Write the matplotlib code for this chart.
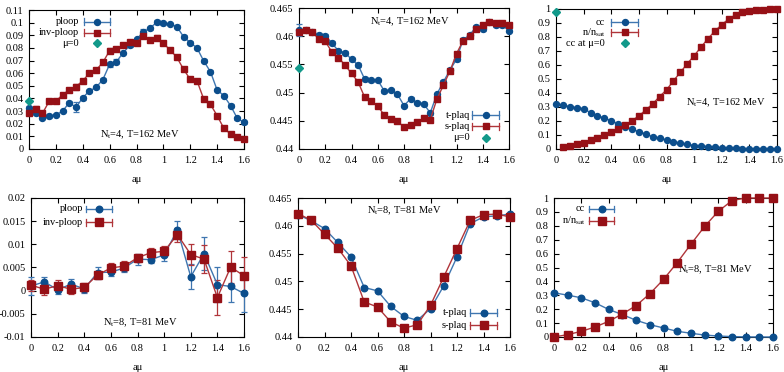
import matplotlib
matplotlib.use("Agg")
import matplotlib.pyplot as plt
import numpy as np
from matplotlib.ticker import MultipleLocator, FuncFormatter

plt.rcParams['font.family'] = ['Liberation Serif', 'DejaVu Serif']
plt.rcParams['mathtext.fontset'] = 'custom'
plt.rcParams['mathtext.rm'] = 'Liberation Serif'
plt.rcParams['mathtext.it'] = 'Liberation Serif:italic'
FS = 7.5
plt.rcParams['font.size'] = FS

# ---------------- data ----------------
mu_fine = np.round(np.arange(0, 1.6001, 0.05), 2)
mu_coarse = np.round(np.arange(0, 1.6001, 0.1), 2)

# Panel 1: Nt=4 Polyakov loops
ploop4 = [0.0322, 0.0282, 0.0245, 0.026, 0.027, 0.030, 0.0367, 0.033, 0.0406, 0.046, 0.0488,
          0.055, 0.067, 0.069, 0.076, 0.082, 0.0868, 0.0926, 0.0955, 0.1003, 0.0995, 0.099,
          0.0968, 0.0889, 0.0842, 0.080, 0.0697, 0.0612, 0.0467, 0.0422, 0.0343, 0.0243, 0.0211]
ploop4_err = [0.0015, 0.001, 0.001, 0.0015, 0.001, 0.001, 0.001, 0.004, 0.0015, 0.001, 0.0012,
              0.001, 0.002, 0.002, 0.001, 0.001, 0.001, 0.002, 0.001, 0.0015, 0.001, 0.001,
              0.001, 0.001, 0.001, 0.001, 0.0012, 0.0012, 0.001, 0.0012, 0.001, 0.001, 0.001]
invploop4 = [0.0288, 0.032, 0.0282, 0.0377, 0.0377, 0.043, 0.0467, 0.0493, 0.054, 0.060, 0.0625,
             0.0686, 0.0778, 0.0789, 0.082, 0.0847, 0.0842, 0.0894, 0.0863, 0.0881, 0.0836, 0.0784,
             0.0726, 0.0631, 0.0551, 0.054, 0.0396, 0.0354, 0.0264, 0.0164, 0.0119, 0.0098, 0.0077]
invploop4_err = [0.002, 0.002, 0.0015, 0.001, 0.001, 0.001, 0.001, 0.0025, 0.001, 0.001, 0.001,
                 0.001, 0.0018, 0.001, 0.001, 0.001, 0.001, 0.001, 0.001, 0.0018, 0.001, 0.001,
                 0.001, 0.001, 0.0012, 0.001, 0.001, 0.001, 0.001, 0.001, 0.001, 0.001, 0.001]
ploop4_mu0 = 0.0383

# Panel 2: Nt=4 plaquettes
tplaq4 = [0.4611, 0.4611, 0.4607, 0.4602, 0.4601, 0.4588, 0.4574, 0.4571, 0.4559, 0.4549, 0.4524,
          0.4522, 0.4522, 0.4503, 0.4504, 0.4497, 0.4477, 0.4489, 0.4482, 0.4480, 0.4464, 0.4497,
          0.4519, 0.4540, 0.4559, 0.4594, 0.4602, 0.4617, 0.4613, 0.4625, 0.4619, 0.4619, 0.4610]
tplaq4_err = [0.001] + [0.0003] * 32
splaq4 = [0.4607, 0.4611, 0.4608, 0.4595, 0.4591, 0.4572, 0.4562, 0.4549, 0.4534, 0.4519, 0.4492,
          0.4485, 0.4476, 0.4460, 0.4454, 0.4449, 0.4439, 0.4443, 0.4447, 0.4455, 0.4452, 0.4488,
          0.4513, 0.4538, 0.4569, 0.4592, 0.4601, 0.4613, 0.4620, 0.4625, 0.4623, 0.4624, 0.4620]
splaq4_err = [0.0003] * 33
plaq4_mu0 = 0.4544

# Panel 3: Nt=4 chiral condensate and density
cc4 = [0.320, 0.313, 0.303, 0.296, 0.287, 0.260, 0.239, 0.220, 0.203, 0.179, 0.160, 0.141, 0.124,
       0.107, 0.088, 0.079, 0.064, 0.053, 0.041, 0.036, 0.024, 0.021, 0.017, 0.012, 0.010, 0.007,
       0.005, 0.003, 0.002, 0.001, 0.001, 0.001, 0.0005]
mu_dens4 = mu_fine[1:]
dens4 = [0.012, 0.024, 0.036, 0.045, 0.064, 0.081, 0.098, 0.119, 0.143, 0.169, 0.203, 0.236,
         0.279, 0.322, 0.375, 0.422, 0.487, 0.547, 0.609, 0.666, 0.728, 0.788, 0.842, 0.888,
         0.928, 0.959, 0.979, 0.988, 0.993, 0.995, 0.998, 0.998]
cc4_mu0 = 0.981

# Panel 4: Nt=8 Polyakov loops
ploop8 = [0.0010, 0.0019, 0.0002, 0.0014, 0.0004, 0.0039, 0.0040, 0.0049, 0.0068, 0.0067, 0.0077,
          0.0131, 0.0030, 0.0080, 0.0013, 0.0009, -0.0006]
ploop8_err = [0.0020, 0.0011, 0.0010, 0.0012, 0.0010, 0.0013, 0.0008, 0.0008, 0.0012, 0.0008, 0.0013,
              0.0020, 0.0027, 0.0035, 0.0038, 0.0033, 0.0040]
invploop8 = [0.0012, 0.0003, 0.0011, 0.0003, 0.0007, 0.0034, 0.0049, 0.0053, 0.0071, 0.0082, 0.0085,
             0.0121, 0.0078, 0.0068, -0.0015, 0.0051, 0.0032]
invploop8_err = [0.0012, 0.0013, 0.0012, 0.0010, 0.0010, 0.0008, 0.0010, 0.0010, 0.0009, 0.0011, 0.0011,
                 0.0015, 0.0022, 0.0030, 0.0037, 0.0034, 0.0040]

# Panel 5: Nt=8 plaquettes
tplaq8 = [0.4620, 0.4609, 0.4595, 0.4570, 0.4544, 0.4489, 0.4483, 0.4455, 0.4437, 0.4430, 0.4451,
          0.4492, 0.4544, 0.4604, 0.4616, 0.4618, 0.4621]
splaq8 = [0.4622, 0.4610, 0.4585, 0.4560, 0.4528, 0.4463, 0.4454, 0.4427, 0.4416, 0.4422, 0.4457,
          0.4508, 0.4559, 0.4610, 0.4620, 0.4621, 0.4616]
plaq8_err = [0.0002] * 17

# Panel 6: Nt=8 chiral condensate and density
cc8 = [0.318, 0.301, 0.282, 0.246, 0.198, 0.161, 0.120, 0.089, 0.065, 0.041, 0.027, 0.014, 0.007,
       0.003, 0.001, 0.0005, 0.0]
dens8 = [0.0, 0.017, 0.041, 0.072, 0.113, 0.166, 0.226, 0.311, 0.414, 0.535, 0.667, 0.795, 0.904,
         0.981, 1.0, 1.0, 1.0]

# ---------------- style ----------------
BLUE = '#0c4e8c'
BLUE_L = '#3f76b0'
RED = '#961016'
RED_L = '#b0353a'
TEAL = '#12998a'

W, H = 784, 372
fig = plt.figure(figsize=(W / 100, H / 100), dpi=100)


def add_ax(l, r, t, b):
    return fig.add_axes([l / W, 1 - b / H, (r - l) / W, (b - t) / H])


fmt = FuncFormatter(lambda v, p: '%g' % round(v, 6))


def style(ax, ylim, ystep):
    ax.set_xlim(0, 1.6)
    ax.set_ylim(*ylim)
    ax.xaxis.set_major_locator(MultipleLocator(0.2))
    ax.yaxis.set_major_locator(MultipleLocator(ystep))
    ax.xaxis.set_major_formatter(fmt)
    ax.yaxis.set_major_formatter(fmt)
    ax.tick_params(direction='in', top=True, right=True, length=3.5, width=0.8,
                   labelsize=FS)
    ax.tick_params(axis='x', pad=5)
    ax.tick_params(axis='y', pad=4)
    for s in ax.spines.values():
        s.set_linewidth(0.8)
    ax.set_xlabel('aμ', fontsize=FS, labelpad=7)


def series(ax, x, y, e, color, lcolor, marker, ms):
    ax.errorbar(x, y, yerr=e, color=lcolor, ecolor=lcolor, lw=1.0, elinewidth=0.9,
                capsize=2, capthick=0.9, marker=marker, ms=ms, mfc=color, mec=color,
                clip_on=False, zorder=3)


def legend_entry(ax, xt, xs0, xs1, y, label, color, lcolor, marker, ms, bar=True):
    ax.text(xt, y, label, transform=ax.transAxes, ha='right', va='center', fontsize=FS)
    xm = 0.5 * (xs0 + xs1)
    if bar:
        ax.plot([xs0, xs1], [y, y], transform=ax.transAxes, color=lcolor, lw=1.0, clip_on=False)
        for xx in (xs0, xs1):
            ax.plot([xx, xx], [y - 0.025, y + 0.025], transform=ax.transAxes, color=lcolor,
                    lw=0.9, clip_on=False)
    ax.plot([xm], [y], transform=ax.transAxes, marker=marker, ms=ms, color=color, ls='none',
            clip_on=False)


def note(ax, x, y, s):
    ax.text(x, y, s, transform=ax.transAxes, ha='center', va='center', fontsize=FS)


# Panel 1
ax1 = add_ax(29, 244, 10, 149)
style(ax1, (0, 0.11), 0.01)
series(ax1, mu_fine, ploop4, ploop4_err, BLUE, BLUE_L, 'o', 4.3)
series(ax1, mu_fine, invploop4, invploop4_err, RED, RED_L, 's', 4.7)
ax1.plot([0], [ploop4_mu0], marker='D', ms=4.3, color=TEAL, ls='none', clip_on=False, zorder=4)
legend_entry(ax1, 0.233, 0.254, 0.378, 0.914, 'ploop', BLUE, BLUE_L, 'o', 4.3)
legend_entry(ax1, 0.233, 0.254, 0.378, 0.837, 'inv-ploop', RED, RED_L, 's', 4.7)
legend_entry(ax1, 0.233, 0.254, 0.378, 0.760, 'μ=0', TEAL, TEAL, 'D', 4.3, bar=False)
note(ax1, 0.516, 0.10, r'N$_{\rm t}$=4, T=162 MeV')

# Panel 2
ax2 = add_ax(299, 509, 8, 149)
style(ax2, (0.44, 0.465), 0.005)
series(ax2, mu_fine, tplaq4, tplaq4_err, BLUE, BLUE_L, 'o', 4.3)
series(ax2, mu_fine, splaq4, splaq4_err, RED, RED_L, 's', 4.7)
ax2.plot([0], [plaq4_mu0], marker='D', ms=4.3, color=TEAL, ls='none', clip_on=False, zorder=4)
legend_entry(ax2, 0.815, 0.826, 0.952, 0.241, 't-plaq', BLUE, BLUE_L, 'o', 4.3)
legend_entry(ax2, 0.815, 0.826, 0.952, 0.160, 's-plaq', RED, RED_L, 's', 4.7)
legend_entry(ax2, 0.815, 0.826, 0.952, 0.080, 'μ=0', TEAL, TEAL, 'D', 4.3, bar=False)
note(ax2, 0.529, 0.90, r'N$_{\rm t}$=4, T=162 MeV')

# Panel 3
ax3 = add_ax(556, 777, 9, 149)
style(ax3, (0, 1), 0.1)
series(ax3, mu_fine, cc4, None, BLUE, BLUE_L, 'o', 4.3)
series(ax3, mu_dens4, dens4, None, RED, RED_L, 's', 4.7)
ax3.plot([0], [cc4_mu0], marker='D', ms=4.3, color=TEAL, ls='none', clip_on=False, zorder=4)
legend_entry(ax3, 0.222, 0.249, 0.371, 0.907, 'cc', BLUE, BLUE_L, 'o', 4.3)
legend_entry(ax3, 0.222, 0.249, 0.371, 0.833, r'n/n$_{\rm sat}$', RED, RED_L, 's', 4.7)
legend_entry(ax3, 0.222, 0.249, 0.371, 0.755, 'cc at μ=0', TEAL, TEAL, 'D', 4.3, bar=False)
note(ax3, 0.769, 0.33, r'N$_{\rm t}$=4, T=162 MeV')

# Panel 4
ax4 = add_ax(31, 244, 198, 337)
style(ax4, (-0.01, 0.02), 0.005)
series(ax4, mu_coarse, ploop8, ploop8_err, BLUE, BLUE_L, 'o', 4.7)
series(ax4, mu_coarse, invploop8, invploop8_err, RED, RED_L, 's', 5.1)
legend_entry(ax4, 0.244, 0.260, 0.380, 0.921, 'ploop', BLUE, BLUE_L, 'o', 4.7)
legend_entry(ax4, 0.244, 0.260, 0.380, 0.827, 'inv-ploop', RED, RED_L, 's', 5.1)
note(ax4, 0.512, 0.10, r'N$_{\rm t}$=8, T=81 MeV')

# Panel 5
ax5 = add_ax(298, 510, 198, 337)
style(ax5, (0.44, 0.465), 0.005)
series(ax5, mu_coarse, tplaq8, plaq8_err, BLUE, BLUE_L, 'o', 4.7)
series(ax5, mu_coarse, splaq8, plaq8_err, RED, RED_L, 's', 5.1)
legend_entry(ax5, 0.797, 0.811, 0.939, 0.173, 't-plaq', BLUE, BLUE_L, 'o', 4.7)
legend_entry(ax5, 0.797, 0.811, 0.939, 0.086, 's-plaq', RED, RED_L, 's', 5.1)
note(ax5, 0.50, 0.906, r'N$_{\rm t}$=8, T=81 MeV')

# Panel 6
ax6 = add_ax(554, 773, 198, 337)
style(ax6, (0, 1), 0.1)
series(ax6, mu_coarse, cc8, None, BLUE, BLUE_L, 'o', 4.7)
series(ax6, mu_coarse, dens8, None, RED, RED_L, 's', 5.1)
legend_entry(ax6, 0.142, 0.160, 0.274, 0.921, 'cc', BLUE, BLUE_L, 'o', 4.7)
legend_entry(ax6, 0.142, 0.160, 0.274, 0.835, r'n/n$_{\rm sat}$', RED, RED_L, 's', 5.1)
note(ax6, 0.735, 0.48, r'N$_{\rm t}$=8, T=81 MeV')

fig.savefig('out.png', dpi=100)
